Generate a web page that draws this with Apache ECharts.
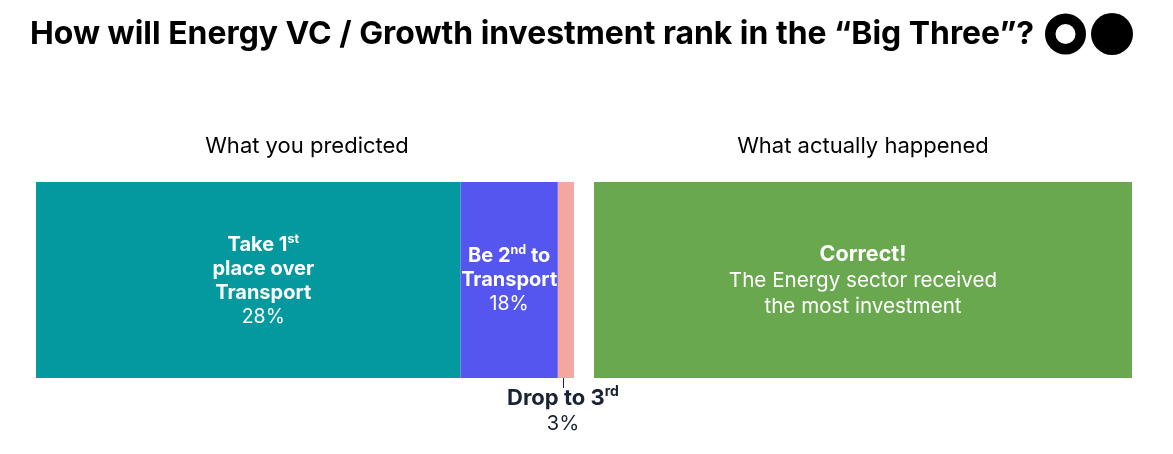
<!DOCTYPE html>
<html><head><meta charset="utf-8">
<style>html,body{margin:0;padding:0;background:#fff}#c{width:1173px;height:454px}</style>
<script src="https://cdn.jsdelivr.net/npm/echarts@6/dist/echarts.min.js"></script>
</head><body><div id="c"></div>
<script>
const titleText = 'How will Energy VC / Growth investment rank in the “Big Three”?';
const panelTitles = ['What you predicted', 'What actually happened'];
const predictedValues = [78.9, 18.1, 3];
const predictedColors = ['#04989F', '#5555F0', '#F4A79F'];
const actualValues = [100];
const actualColor = '#6AA84F';
const F = 'Inter';
const rich = {
  b: {fontFamily: F, fontWeight: 700, fontSize: 20, color: '#fff', lineHeight: 24},
  s: {fontFamily: F, fontWeight: 700, fontSize: 12.5, color: '#fff', lineHeight: 24, verticalAlign: 'top', padding: [0, 0, 5, 0]},
  r: {fontFamily: F, fontWeight: 400, fontSize: 19.5, color: '#fff', lineHeight: 24},
  B: {fontFamily: F, fontWeight: 700, fontSize: 21.5, color: '#fff', lineHeight: 26},
  R: {fontFamily: F, fontWeight: 400, fontSize: 20.6, color: '#fff', lineHeight: 26},
  db: {fontFamily: F, fontWeight: 700, fontSize: 22, color: '#1A2233', lineHeight: 26},
  ds: {fontFamily: F, fontWeight: 700, fontSize: 14, color: '#1A2233', lineHeight: 26, verticalAlign: 'top', padding: [0, 0, 5, 0]},
  dr: {fontFamily: F, fontWeight: 400, fontSize: 20.5, color: '#1A2233', lineHeight: 26}
};
const predictedLabels = [
  {show: true, position: 'inside', offset: [15, 1], rich, formatter: '{b|Take 1}{s|st}\n{b|place over}\n{b|Transport}\n{r|28%}'},
  {show: true, position: 'inside', rich, formatter: '{b|Be 2}{s|nd}{b| to}\n{b|Transport}\n{r|18%}'},
  {show: true, position: 'bottom', offset: [-3, 2], rich, formatter: '{db|Drop to 3}{ds|rd}\n{dr|3%}'}
];
const actualLabel = {show: true, position: 'inside', offset: [0, 1], rich, formatter: '{B|Correct!}\n{R|The Energy sector received}\n{R|the most investment}'};
const hiddenAxis = {show: false};
const chart = echarts.init(document.getElementById('c'), null, {renderer: 'canvas'});
chart.setOption({
  animation: false,
  backgroundColor: '#fff',
  title: [
    {text: titleText, left: 25, top: 13, textStyle: {fontFamily: F, fontWeight: 700, fontSize: 31.9, color: '#000'}},
    {text: panelTitles[0], left: 302, top: 130, textAlign: 'center', textStyle: {fontFamily: F, fontWeight: 400, fontSize: 22, color: '#000'}},
    {text: panelTitles[1], left: 858, top: 130, textAlign: 'center', textStyle: {fontFamily: F, fontWeight: 400, fontSize: 22, color: '#000'}}
  ],
  grid: [
    {left: 36, width: 538, top: 182, height: 196},
    {left: 594, width: 538, top: 182, height: 196}
  ],
  xAxis: [
    {...hiddenAxis, type: 'value', gridIndex: 0, min: 0, max: 100},
    {...hiddenAxis, type: 'value', gridIndex: 1, min: 0, max: 100}
  ],
  yAxis: [
    {...hiddenAxis, type: 'category', gridIndex: 0, data: ['p']},
    {...hiddenAxis, type: 'category', gridIndex: 1, data: ['a']}
  ],
  series: [
    ...predictedValues.map((v, i) => ({
      type: 'bar', stack: 'p', xAxisIndex: 0, yAxisIndex: 0, barWidth: '100%',
      data: [v], itemStyle: {color: predictedColors[i]}, label: predictedLabels[i], silent: true
    })),
    ...actualValues.map(v => ({
      type: 'bar', xAxisIndex: 1, yAxisIndex: 1, barWidth: '100%',
      data: [v], itemStyle: {color: actualColor}, label: actualLabel, silent: true
    }))
  ],
  graphic: [
    {type: 'circle', shape: {cx: 1065.5, cy: 34, r: 15.25}, style: {fill: 'none', stroke: '#000', lineWidth: 10.5}},
    {type: 'circle', shape: {cx: 1112, cy: 34, r: 21}, style: {fill: '#000'}},
    {type: 'line', shape: {x1: 563.5, y1: 378, x2: 563.5, y2: 388}, style: {stroke: '#1A2233', lineWidth: 1}}
  ]
});
</script></body></html>
